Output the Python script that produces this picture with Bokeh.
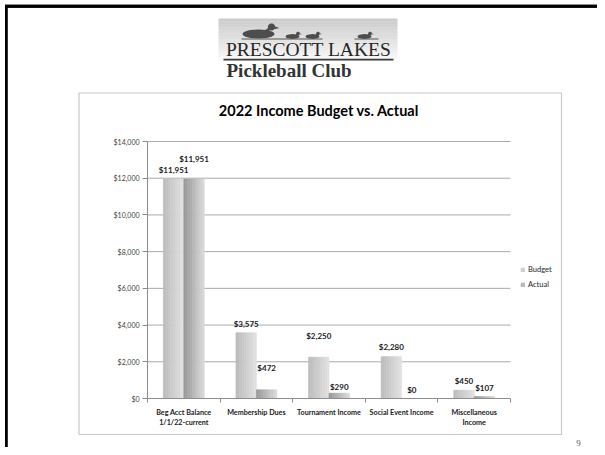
import numpy as np
from bokeh.plotting import figure
from bokeh.models import (Range1d, ColumnDataSource, Label, BoxAnnotation, FixedTicker, LinearAxis,
                          PolyAnnotation, Legend, LegendItem, NumeralTickFormatter)
from bokeh.transform import dodge
from bokeh.core.properties import value
from bokeh.embed import file_html
from bokeh.resources import INLINE

# ---------------- data ----------------
categories = ["Beg Acct Balance\n1/1/22-current", "Membership Dues", "Tournament Income",
              "Social Event Income", "Miscellaneous\nIncome"]
budget = [11951, 3575, 2250, 2280, 450]
actual = [11951, 472, 290, 0, 107]
series_names = ["Budget", "Actual"]
y_ticks = [0, 2000, 4000, 6000, 8000, 10000, 12000, 14000]
y_max = 14000
chart_title = "2022 Income Budget vs. Actual"
logo_line1 = "PRESCOTT LAKES"
logo_line2 = "Pickleball Club"
page_number = "9"

# ---------------- layout / style ----------------
budget_label_gap = [4, 4, 16, 5, 4]     # px between bar top and label
actual_label_gap = [15, 17, 1, 4, 4]
W, H = 597, 447
FL, FR, FT, FB = 147, 510, 141, 398     # plot area in canvas pixels
FONT = "Lato"
AX = "#8c8c8c"

n = len(categories)
idx = list(range(n))
step = (FR - FL) / n
vpp = y_max / (FB - FT)                 # value per pixel

p = figure(width=W, height=H, x_range=Range1d(0, W), y_range=Range1d(H, 0),
           x_axis_type=None, y_axis_type=None,
           output_backend="svg", toolbar_location=None, min_border=0)
p.title.visible = False
p.extra_x_ranges = {"cat": Range1d((0 - FL) / step - 0.5, (W - FL) / step - 0.5)}
p.extra_y_ranges = {"val": Range1d((FB - H) * vpp, FB * vpp)}
p.outline_line_color = None
p.background_fill_color = "white"
p.border_fill_color = "white"
p.xgrid.visible = False
p.ygrid.visible = False

# gridlines (drawn from the tick values)
p.segment(x0=FL, x1=FR, y0="t", y1="t", source=ColumnDataSource(dict(t=y_ticks)),
          y_range_name="val", line_color="#ababab", line_width=1)

# axes
yax = LinearAxis(y_range_name="val", fixed_location=FL, bounds=(0, y_max),
                 ticker=FixedTicker(ticks=y_ticks), formatter=NumeralTickFormatter(format="$0,0"))
yax.axis_line_color = AX
yax.major_tick_line_color = AX
yax.major_tick_out = 5
yax.major_tick_in = 0
yax.minor_tick_line_color = None
yax.major_label_text_font = FONT
yax.major_label_text_font_size = "7px"
yax.major_label_text_color = "#404040"
yax.major_label_standoff = 3
p.add_layout(yax, "left")

xax = LinearAxis(x_range_name="cat", fixed_location=FB, bounds=(-0.5, n - 0.5),
                 ticker=FixedTicker(ticks=idx, minor_ticks=[i - 0.5 for i in range(n + 1)]))
xax.major_label_overrides = {i: c for i, c in zip(idx, categories)}
xax.axis_line_color = AX
xax.major_tick_line_color = None
xax.minor_tick_line_color = AX
xax.minor_tick_out = 4
xax.minor_tick_in = 0
xax.major_label_text_font = FONT
xax.major_label_text_font_style = "bold"
xax.major_label_text_font_size = "7.2px"
xax.major_label_text_color = "#1a1a1a"
xax.major_label_standoff = 3
p.add_layout(xax, "below")

# ---------------- bars (gradient strips) ----------------
src = ColumnDataSource(dict(
    idx=idx, budget=budget, actual=actual,
    blbl=[f"${v:,.0f}" for v in budget], albl=[f"${v:,.0f}" for v in actual],
    boff=[-g for g in budget_label_gap], aoff=[-g for g in actual_label_gap]))

BW = 0.282
NS = 12
grad = {"budget": (0xbc, 0xe0), "actual": (0x98, 0xd8)}
legend_renderers = {}
for key in ["budget", "actual"]:
    c0, c1 = grad[key]
    base = -BW if key == "budget" else 0.0
    for i in range(NS):
        t = i / (NS - 1)
        g = int(round(c0 + (c1 - c0) * t))
        col = "#%02x%02x%02x" % (g, g, g)
        off = base + (i + 0.5) * BW / NS
        r = p.vbar(x=dodge("idx", off), top=key, bottom=0, width=BW / NS,
                   source=src, fill_color=col, line_color=col, line_width=0.6,
                   x_range_name="cat", y_range_name="val")
        if i == NS // 2:
            legend_renderers[key] = r

# data labels
for xo, col_v, col_t, col_o in [(-BW / 2, "budget", "blbl", "boff"), (BW / 2, "actual", "albl", "aoff")]:
    p.text(x=dodge("idx", xo), y=col_v, text=col_t, y_offset=col_o, source=src,
           x_range_name="cat", y_range_name="val",
           text_font=value(FONT), text_font_style="bold", text_font_size="8px",
           text_align="center", text_baseline="bottom", text_color="#1a1a1a")

# legend
legend = Legend(items=[LegendItem(label=series_names[0], renderers=[legend_renderers["budget"]]),
                       LegendItem(label=series_names[1], renderers=[legend_renderers["actual"]])],
                location=(520, H - 289), orientation="vertical")
legend.border_line_color = None
legend.background_fill_alpha = 0
legend.padding = 0
legend.margin = 0
legend.spacing = 6
legend.glyph_height = 5
legend.glyph_width = 5
legend.label_height = 9
legend.label_standoff = 3
legend.label_text_font = FONT
legend.label_text_font_size = "7.5px"
legend.label_text_color = "#262626"
p.add_layout(legend, "center")

# ---------------- page decorations (canvas pixel coordinates) ----------------
def fill_box(l, r, t, b, color):
    p.add_layout(BoxAnnotation(left=l, right=r, top=t, bottom=b, fill_color=color, fill_alpha=1,
                               line_color=None))

def frame_box(l, r, t, b, color, lw):
    p.add_layout(BoxAnnotation(left=l, right=r, top=t, bottom=b, fill_alpha=0,
                               line_color=color, line_alpha=1, line_width=lw, line_dash="solid"))

def label(x, y, text, **kw):
    p.add_layout(Label(x=x, y=y, text=text, **kw))

def poly(xs, ys, color):
    p.add_layout(PolyAnnotation(xs=list(xs), ys=list(ys), fill_color=color, fill_alpha=1,
                                line_color=None))

# outer slide border (top and left edges)
poly([4.5, W + 5, W + 5, 7.3, 7.3, 4.5], [4.3, 4.3, 7.3, 7.3, H + 5, H + 5], "#000000")
fill_box(4.5, W - 0.5, 4.3, 7.3, "#000000")
# chart area frame
frame_box(78.5, 561, 92.5, 434, "#c8c8c8", 1.2)

# logo background gradient
NL = 14
for i in range(NL):
    t0 = 18 + (59 - 18) * i / NL
    t1 = 18 + (59 - 18) * (i + 1) / NL
    g = int(round(0xcc + (0xf6 - 0xcc) * i / (NL - 1)))
    fill_box(218, 397, t0, t1 + 0.3, "#%02x%02x%02x" % (g, g, g))

# ducks
def ellipse(cx, cy, a, b, npt=24):
    th = np.linspace(0, 2 * np.pi, npt, endpoint=False)
    return cx + a * np.cos(th), cy + b * np.sin(th)

duck_col = "#4d4d4d"
for (cx, cy, a, b, hx, hy, hr) in [(258, 33.5, 16, 4.5, 271, 26.5, 3.6),
                                    (292, 36, 7, 2.4, 297.5, 33, 1.8),
                                    (312, 36, 7, 2.4, 317.5, 33, 1.8),
                                    (364, 36, 7, 2.4, 369.5, 33, 1.8)]:
    xs, ys = ellipse(cx, cy, a, b)
    poly(xs, ys, duck_col)
    xs, ys = ellipse(hx, hy, hr, hr)
    poly(xs, ys, duck_col)
    poly([hx - hr * 0.6, hx + hr * 0.2, cx + a * 0.5, cx + a * 0.1],
         [hy, hy, cy, cy], duck_col)
    poly([hx + hr * 0.8, hx + hr * 2.2, hx + hr * 0.8],
         [hy - hr * 0.2, hy + hr * 0.3, hy + hr * 0.6], duck_col)
fill_box(241, 322, 38, 39, "#555555")
fill_box(354, 378, 38, 39, "#555555")

label(308, 48.5, logo_line1, text_font="Liberation Serif", text_font_size="19.5px",
      text_color="#262626", text_align="center", text_baseline="middle")
fill_box(223, 393, 58.3, 60, "#3a3a3a")
label(226, 69.5, logo_line2, text_font="Liberation Serif", text_font_style="bold",
      text_font_size="19px", text_color="#333333", text_align="left", text_baseline="middle")

# chart title
label(318.5, 110, chart_title, text_font=FONT, text_font_style="bold", text_font_size="14.5px",
      text_color="#000000", text_align="center", text_baseline="middle")

# page number
label(578, 442, page_number, text_font="Liberation Serif", text_font_size="9px",
      text_color="#555555", text_align="center", text_baseline="middle")

open("out.html", "w").write(file_html(p, INLINE))
